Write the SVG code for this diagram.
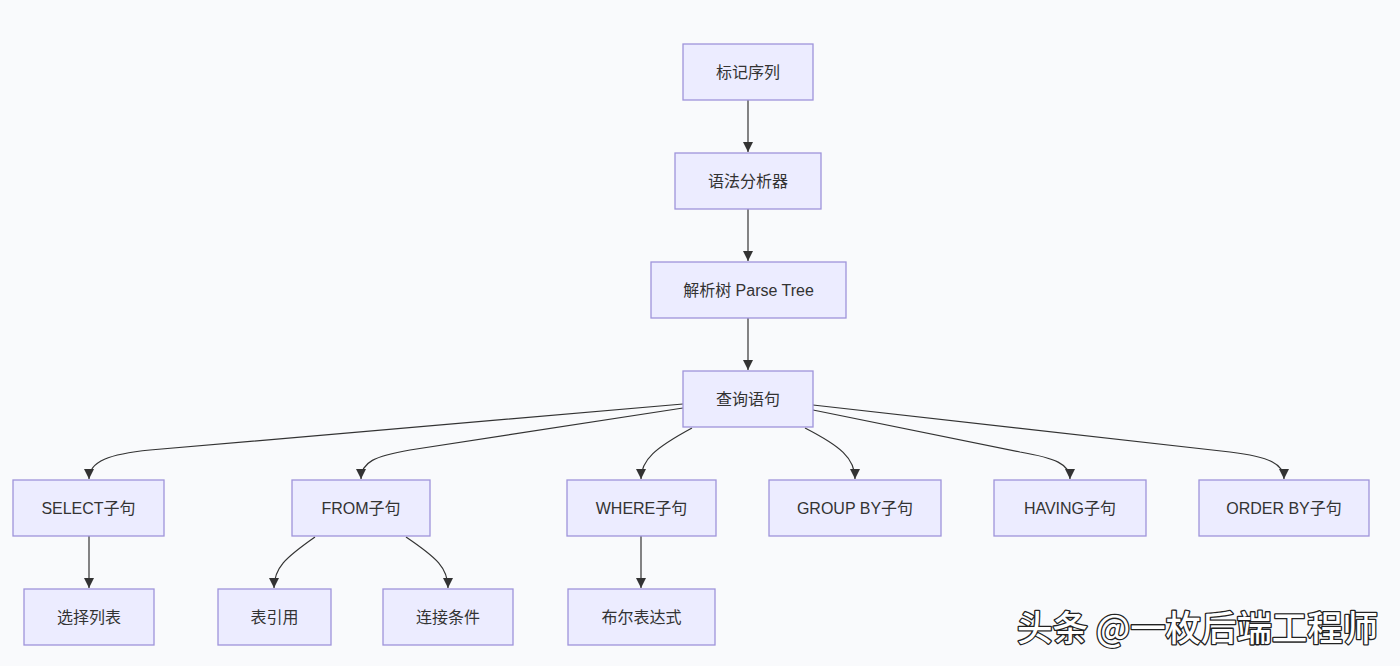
<svg xmlns="http://www.w3.org/2000/svg" width="1400" height="666" viewBox="0 0 1400 666">
<defs>
<marker id="arr" viewBox="0 0 10 10" refX="10" refY="5" markerWidth="10" markerHeight="10" markerUnits="userSpaceOnUse" orient="auto">
<path d="M0,0 L10,5 L0,10 z" fill="#333"/>
</marker>
<style>
.node rect{fill:#ECECFF;stroke:#9F94DB;stroke-width:1.3}
.node text{font-family:"Liberation Sans","Noto Sans CJK SC",sans-serif;font-size:16px;fill:#333;text-anchor:middle;dominant-baseline:central}
.edges path{fill:none;stroke:#333;stroke-width:1.2;marker-end:url(#arr)}
.wm{font-family:"Noto Sans CJK SC",sans-serif;font-size:35px;font-weight:500;fill:#fff;stroke:#222;stroke-width:2.6;paint-order:stroke;stroke-linejoin:round}
</style>
</defs>
<rect width="1400" height="666" fill="#F9FAFC"/>
<g class="edges">
<path d="M748,100 L748,152"/>
<path d="M748,209 L748,261"/>
<path d="M748,318 L748,370"/>
<path d="M683,404 L150,450 C110,454 89,461 89,479"/>
<path d="M683,408 L410,450 C375,456 361,462 361,479"/>
<path d="M692,428 C655,448 641,460 641,479"/>
<path d="M805,428 C840,446 855,458 855,479"/>
<path d="M813,410 L1020,452 C1055,458 1070,464 1070,479"/>
<path d="M813,405 L1230,452 C1270,457 1284,464 1284,479"/>
<path d="M89,536 L89,588"/>
<path d="M315,537 C285,558 274,568 274,588"/>
<path d="M406,537 C437,558 448,568 448,588"/>
<path d="M641,536 L641,588"/>
</g>
<g id="n1" class="node"><rect x="683" y="44" width="130" height="56"/><text x="748" y="72">标记序列</text></g>
<g id="n2" class="node"><rect x="675" y="153" width="146" height="56"/><text x="748" y="181">语法分析器</text></g>
<g id="n3" class="node"><rect x="651" y="262" width="195" height="56"/><text x="748.5" y="290">解析树 Parse Tree</text></g>
<g id="n4" class="node"><rect x="683" y="371" width="130" height="56"/><text x="748" y="399">查询语句</text></g>
<g id="n5" class="node"><rect x="13" y="480" width="151" height="56"/><text x="88.5" y="508">SELECT子句</text></g>
<g id="n6" class="node"><rect x="292" y="480" width="138" height="56"/><text x="361" y="508">FROM子句</text></g>
<g id="n7" class="node"><rect x="567" y="480" width="149" height="56"/><text x="641.5" y="508">WHERE子句</text></g>
<g id="n8" class="node"><rect x="769" y="480" width="172" height="56"/><text x="855" y="508">GROUP BY子句</text></g>
<g id="n9" class="node"><rect x="994" y="480" width="152" height="56"/><text x="1070" y="508">HAVING子句</text></g>
<g id="n10" class="node"><rect x="1199" y="480" width="170" height="56"/><text x="1284" y="508">ORDER BY子句</text></g>
<g id="n11" class="node"><rect x="24" y="589" width="130" height="56"/><text x="89" y="617">选择列表</text></g>
<g id="n12" class="node"><rect x="218" y="589" width="113" height="56"/><text x="274.5" y="617">表引用</text></g>
<g id="n13" class="node"><rect x="383" y="589" width="130" height="56"/><text x="448" y="617">连接条件</text></g>
<g id="n14" class="node"><rect x="568" y="589" width="147" height="56"/><text x="641.5" y="617">布尔表达式</text></g>
<text class="wm" x="1017" y="641" textLength="361" lengthAdjust="spacingAndGlyphs">头条 @一枚后端工程师</text>
</svg>
